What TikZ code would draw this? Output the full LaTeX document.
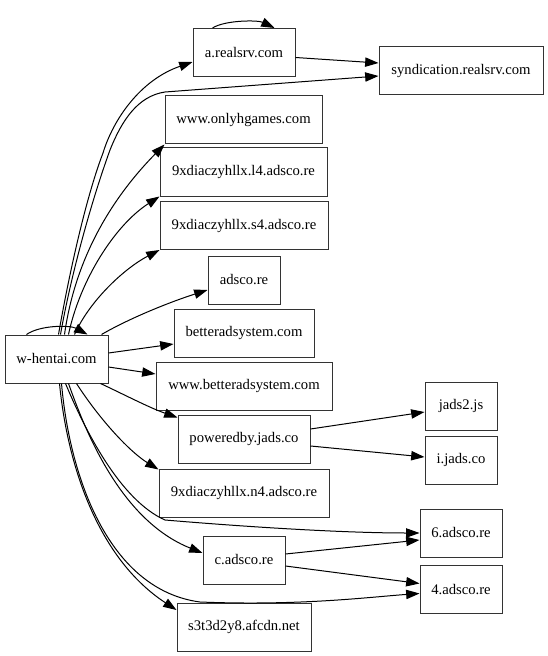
\documentclass[tikz,border=0pt]{standalone}
\usepackage{fontspec}
\setmainfont{Liberation Serif}
\usetikzlibrary{arrows.meta,calc}
\begin{document}
\begin{tikzpicture}[x=0.75pt,y=-0.75pt,
  box/.style={draw=black!80, line width=0.75pt, minimum height=36pt, inner sep=0pt,
    font=\fontsize{11}{13}\selectfont, fill=white},
  edge/.style={line width=0.75pt, -{Triangle[length=10pt,width=7pt]}}]
\useasboundingbox (0,0) rectangle (548,656);
% nodes
\node[box, minimum width=76.5pt] (ar) at (244,52.5) {a.realsrv.com};
\node[box, minimum width=123pt] (syn) at (461,71) {syndication.realsrv.com};
\node[box, minimum width=117.75pt] (og) at (243.5,120) {www.onlyhgames.com};
\node[box, minimum width=125.25pt] (l4) at (243.5,172) {9xdiaczyhllx.l4.adsco.re};
\node[box, minimum width=126pt] (s4) at (244,225.5) {9xdiaczyhllx.s4.adsco.re};
\node[box, minimum width=54pt] (ad) at (244,280) {adsco.re};
\node[box, minimum width=105pt] (bs) at (244,333) {betteradsystem.com};
\node[box, minimum width=77.25pt] (wh) at (56.5,359) {w-hentai.com};
\node[box, minimum width=132pt] (wbs) at (244,386) {www.betteradsystem.com};
\node[box, minimum width=99pt] (pw) at (244,439) {poweredby.jads.co};
\node[box, minimum width=54pt] (j2) at (461,406) {jads2.js};
\node[box, minimum width=54pt] (ij) at (461,460) {i.jads.co};
\node[box, minimum width=127.5pt] (n4) at (244,493) {9xdiaczyhllx.n4.adsco.re};
\node[box, minimum width=61.5pt] (a6) at (461,533) {6.adsco.re};
\node[box, minimum width=61.5pt] (ca) at (244,560) {c.adsco.re};
\node[box, minimum width=61.5pt] (a4) at (461,589.5) {4.adsco.re};
\node[box, minimum width=100.5pt] (s3) at (244,627) {s3t3d2y8.afcdn.net};
% self loops
\draw[edge] ($(wh.north west)+(22,0)$) .. controls (40,325) and (70,325) .. ($(wh.north west)+(83,0)$);
\draw[edge] ($(ar.north west)+(20,0)$) .. controls (225,20) and (258,20) .. ($(ar.north west)+(82,0)$);
% upward edges
\draw[edge] ($(wh.north west)+(54,0)$) .. controls (68,280) and (85,200) .. (103,153)
  .. controls (113,120) and (140,80) .. ($(ar.west)+(0,9.5)$);
\draw[edge] ($(wh.north west)+(56,0)$) .. controls (70,280) and (90,205) .. (110,150)
  .. controls (122,120) and (138,96) .. (165,92) -- ($(syn.west)+(0,5)$);
\draw[edge] ($(ar.east)+(0,5)$) -- ($(syn.west)+(0,-8)$);
\draw[edge] ($(wh.north west)+(60,0)$) .. controls (75,260) and (110,200) .. (og.south west);
\draw[edge] ($(wh.north west)+(64,0)$) .. controls (80,280) and (115,225) .. (l4.south west);
\draw[edge] ($(wh.north west)+(70,0)$) .. controls (90,300) and (125,268) .. (s4.south west);
\draw[edge] ($(wh.north west)+(97,0)$) .. controls (130,318) and (170,302) .. ($(ad.west)+(0,10)$);
% side edges
\draw[edge] ($(wh.east)+(0,-6)$) -- ($(bs.west)+(0,11)$);
\draw[edge] ($(wh.east)+(0,8)$) -- ($(wbs.west)+(0,-12)$);
\draw[edge] ($(wh.south west)+(96,0)$) .. controls (125,395) and (150,408) .. ($(pw.north west)+(0,3)$);
\draw[edge] ($(pw.east)+(0,-10)$) -- ($(j2.west)+(0,6)$);
\draw[edge] ($(pw.east)+(0,7)$) -- ($(ij.west)+(0,-3)$);
% downward edges
\draw[edge] ($(wh.south west)+(72,0)$) .. controls (100,420) and (130,452) .. ($(n4.north west)+(0,1)$);
\draw[edge] ($(wh.south west)+(61,0)$) .. controls (85,430) and (120,500) .. (165,520)
  .. controls (260,528) and (350,533) .. (a6.west);
\draw[edge] ($(wh.south west)+(64,0)$) .. controls (85,430) and (120,520) .. ($(ca.west)+(0,-7)$);
\draw[edge] ($(ca.east)+(0,-6)$) -- ($(a6.west)+(0,7)$);
\draw[edge] ($(ca.east)+(0,6)$) -- ($(a4.west)+(0,-6)$);
\draw[edge] ($(wh.south west)+(57,0)$) .. controls (70,480) and (110,590) .. (200,602)
  .. controls (300,606) and (370,597) .. ($(a4.west)+(0,4)$);
\draw[edge] ($(wh.south west)+(55,0)$) .. controls (68,470) and (100,560) .. ($(s3.west)+(0,-17)$);
\end{tikzpicture}
\end{document}
